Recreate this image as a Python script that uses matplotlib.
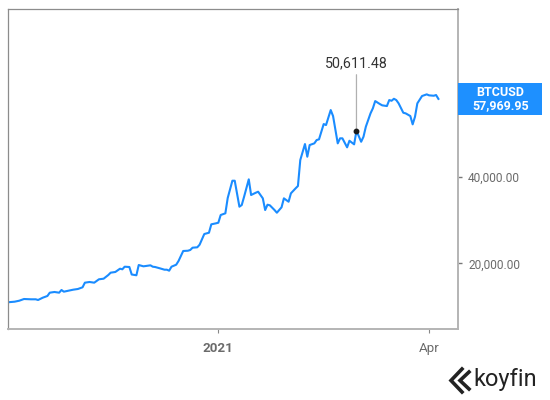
import matplotlib.pyplot as plt
import matplotlib.transforms as mtransforms
from matplotlib.lines import Line2D
from matplotlib.patches import Rectangle
import pandas as pd

plt.rcParams['font.family'] = ['Roboto', 'DejaVu Sans']

# BTCUSD
dates = ['2020-10-03', '2020-10-06', '2020-10-08', '2020-10-10', '2020-10-13', '2020-10-15',
         '2020-10-16', '2020-10-18', '2020-10-20', '2020-10-21', '2020-10-23', '2020-10-25',
         '2020-10-26', '2020-10-27', '2020-10-29', '2020-10-31', '2020-11-02', '2020-11-04',
         '2020-11-05', '2020-11-07', '2020-11-09', '2020-11-11', '2020-11-13', '2020-11-15',
         '2020-11-16', '2020-11-18', '2020-11-20', '2020-11-21', '2020-11-22', '2020-11-24',
         '2020-11-25', '2020-11-27', '2020-11-28', '2020-11-30', '2020-12-01', '2020-12-03',
         '2020-12-04', '2020-12-05', '2020-12-07', '2020-12-09', '2020-12-10', '2020-12-11',
         '2020-12-12', '2020-12-14', '2020-12-15', '2020-12-17', '2020-12-19', '2020-12-20',
         '2020-12-21', '2020-12-23', '2020-12-24', '2020-12-26', '2020-12-28', '2020-12-29',
         '2020-12-31', '2021-01-01', '2021-01-02', '2021-01-04', '2021-01-05', '2021-01-07',
         '2021-01-08', '2021-01-10', '2021-01-11', '2021-01-12', '2021-01-14', '2021-01-15',
         '2021-01-17', '2021-01-18', '2021-01-20', '2021-01-21', '2021-01-22', '2021-01-23',
         '2021-01-25', '2021-01-26', '2021-01-28', '2021-01-29', '2021-01-31', '2021-02-01',
         '2021-02-03', '2021-02-04', '2021-02-05', '2021-02-07', '2021-02-08', '2021-02-09',
         '2021-02-11', '2021-02-12', '2021-02-13', '2021-02-15', '2021-02-16', '2021-02-18',
         '2021-02-19', '2021-02-21', '2021-02-22', '2021-02-23', '2021-02-25', '2021-02-26',
         '2021-02-28', '2021-03-01', '2021-03-03', '2021-03-04', '2021-03-05', '2021-03-07',
         '2021-03-08', '2021-03-09', '2021-03-11', '2021-03-12', '2021-03-14', '2021-03-15',
         '2021-03-16', '2021-03-17', '2021-03-18', '2021-03-19', '2021-03-21', '2021-03-22',
         '2021-03-24', '2021-03-25', '2021-03-26', '2021-03-27', '2021-03-29', '2021-03-31',
         '2021-04-01', '2021-04-03', '2021-04-04', '2021-04-05']
prices = [10990, 11130, 11360, 11750, 11680, 11680,
          11520, 12050, 12450, 13210, 13370, 13210,
          13830, 13440, 13670, 13900, 14060, 14450,
          15520, 15680, 15520, 16300, 16440, 17290,
          17830, 17990, 18750, 18610, 19210, 19140,
          17410, 17230, 19600, 19300, 19370, 19530,
          19210, 19140, 18840, 18520, 18520, 18290,
          19210, 19670, 20530, 22840, 22900, 23070,
          23600, 23690, 24290, 26760, 27060, 29000,
          29230, 29370, 31150, 31540, 35070, 39070,
          39070, 33070, 33460, 35370, 39390, 35770,
          36300, 36530, 35000, 32300, 33530, 33390,
          32300, 31680, 32930, 35000, 34220, 36160,
          37310, 37850, 43850, 47540, 44610, 47310,
          47700, 48470, 48630, 52160, 51930, 55390,
          54010, 47700, 48860, 48860, 46780, 48300,
          47470, 50611.48, 48070, 49230, 51540, 54630,
          55790, 57470, 56780, 56480, 56320, 57700,
          57540, 58000, 57700, 56940, 54770, 54630,
          54010, 52090, 53850, 56940, 58630, 59020,
          58790, 58700, 58860, 57969.95]

ticker = 'BTCUSD'
marked_date = '2021-03-01'
marked_price = 50611.48
y_ticks = [20000, 40000, 60000]
y_tick_labels = ['20,000.00', '40,000.00', '']  # 60,000 sits under the price tag
x_ticks = ['2021-01-01', '2021-04-01']
x_tick_labels = ['2021', 'Apr']

line_color = '#1a8cff'
tick_color = '#6b6b6b'

fig = plt.figure(figsize=(5.5, 4), dpi=100)
ax = fig.add_axes([0.0151, 0.1763, 0.8182, 0.8017])

s = pd.Series(prices, index=pd.to_datetime(dates))
ax.plot(s.index, s.values, color=line_color, lw=1.5, solid_joinstyle='round')

ax.set_xlim(pd.Timestamp('2020-10-03 07:00'), pd.Timestamp('2021-04-13 12:00'))
ax.set_ylim(4710, 78780)

# spines
for side in ['left', 'top']:
    ax.spines[side].set_color('#8c8c8c')
    ax.spines[side].set_linewidth(0.9)
for side in ['right', 'bottom']:
    ax.spines[side].set_color('#b4b4b4')
    ax.spines[side].set_linewidth(1.4)

# ticks
ax.yaxis.tick_right()
ax.set_yticks(y_ticks)
ax.set_yticklabels(y_tick_labels)
ax.tick_params(axis='y', length=3, width=1, color='#777777', pad=4,
               labelsize=8.6, labelcolor=tick_color)
ax.set_xticks(pd.to_datetime(x_ticks))
ax.set_xticklabels(x_tick_labels)
ax.tick_params(axis='x', length=3, width=0.8, color='#888888', pad=6,
               labelsize=9.6, labelcolor=tick_color)
ax.get_xticklabels()[0].set_fontweight('bold')

# marked point
mx = pd.Timestamp(marked_date)
ax.plot([mx], [marked_price], 'o', color='#1a1a1a', ms=3.2, zorder=4)
ax.annotate('{:,.2f}'.format(marked_price), xy=(mx, marked_price),
            xytext=(0, 46), textcoords='offset points', ha='center', va='baseline',
            fontsize=10.3, color='#333333',
            arrowprops=dict(arrowstyle='-', color='#b0b0b0', lw=0.9,
                            shrinkA=1.5, shrinkB=0))

# last price tag on the right axis
last = prices[-1]
blend = mtransforms.blended_transform_factory(ax.transAxes, ax.transData)
tag_w = 84 / 450.0
tag_h = 16 * 230.9
ax.add_patch(Rectangle((1.0, last - tag_h), tag_w, 2 * tag_h, transform=blend,
                       facecolor='#1e90ff', edgecolor='none', clip_on=False, zorder=5))
ax.text(1.0 + tag_w / 2, last, '{}\n{:,.2f}'.format(ticker, last), transform=blend,
        ha='center', va='center', color='white', fontsize=9, fontweight='bold',
        linespacing=0.95, zorder=6, clip_on=False)

# koyfin logo
fig.text(473 / 550, 1 - 386 / 400, 'koyfin', fontsize=17, color='#222222',
         ha='left', va='baseline')
for pts in [[(462, 369), (451, 380.5), (462, 392)],
            [(469, 372), (460, 380.5), (469, 389)]]:
    xs = [p[0] / 550 for p in pts]
    ys = [1 - p[1] / 400 for p in pts]
    fig.add_artist(Line2D(xs, ys, transform=fig.transFigure, color='#222222',
                          lw=2.6, solid_joinstyle='miter'))

fig.savefig('out.png', dpi=100)
